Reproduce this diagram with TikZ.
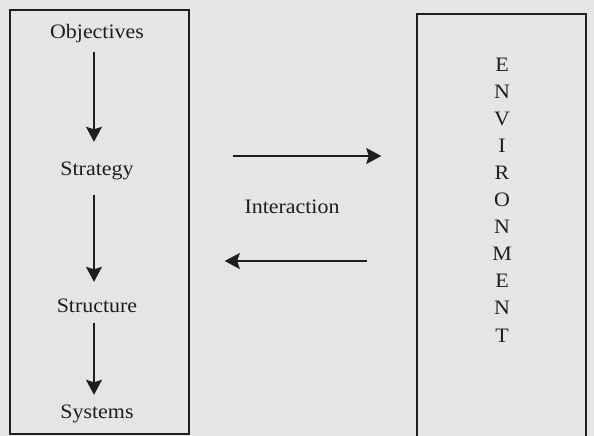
\documentclass[tikz,border=0pt]{standalone}
\usepackage{fontspec}
\setmainfont[FakeStretch=1.07]{Liberation Serif}
\usetikzlibrary{arrows.meta,positioning}
\definecolor{PaperGray}{HTML}{E5E5E5}
\definecolor{InkGray}{HTML}{1E1E1E}

\begin{document}
\begin{tikzpicture}[x=1pt, y=-1pt, font=\fontsize{20.5}{24}\selectfont, text=InkGray,
    word/.style = {anchor=base, inner sep=0pt, text height=14pt, text depth=4pt},
    frame/.style = {draw=InkGray, line width=1.5pt, inner sep=0pt},
    flow/.style = {draw=InkGray, line width=1.6pt, -{Stealth[length=15pt, width=16pt, inset=2.5pt]}}]
      \fill[PaperGray] (0,0) rectangle (594,436);
      \useasboundingbox (0,0) rectangle (594,436);
      % the two boxes
      \node[frame, minimum width=179pt, minimum height=424pt] (org) at (99.5,222) {};
      \node[frame, minimum width=169pt, minimum height=446pt] (env) at (501.5,237) {};
      % left column
      \node[word] (0) at (97,38) {Objectives};
      \node[word] (1) at (97,175) {Strategy};
      \node[word] (2) at (97,312) {Structure};
      \node[word] (3) at (97,418) {Systems};
      \draw[flow, shorten <=10pt, shorten >=19pt] ([xshift=-3pt]0.south) -- ([xshift=-3pt]1.north);
      \draw[flow, shorten <=16pt, shorten >=16pt] ([xshift=-3pt]1.south) -- ([xshift=-3pt]2.north);
      \draw[flow, shorten <=7pt, shorten >=9pt] ([xshift=-3pt]2.south) -- ([xshift=-3pt]3.north);
      % interaction between the boxes
      \node[word] (inter) at (292,213) {Interaction};
      \coordinate (upper) at (0,156);
      \coordinate (lower) at (0,261);
      \draw[flow, shorten <=43pt, shorten >=35pt] (org.east |- upper) -- (env.west |- upper);
      \draw[flow, shorten <=49pt, shorten >=35pt] (env.west |- lower) -- (org.east |- lower);
      % right box, letters stacked
      \foreach \l [count=\i from 0] in {E,N,V,I,R,O,N,M,E,N,T}
        \node[word] (e\i) at (502,71+27.1*\i) {\l};
    \end{tikzpicture}
\end{document}
